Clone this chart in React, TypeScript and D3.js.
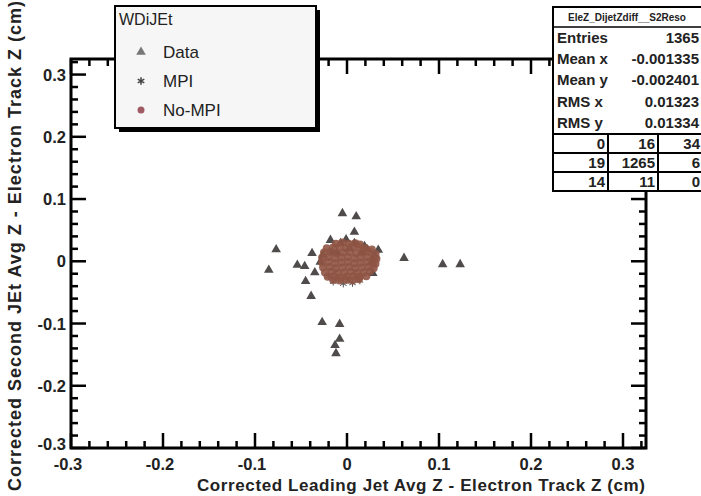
import * as d3 from "d3"

// outlying "Data" triangles plus the ones poking out of the core
const dataX = [-0.005, 0.01, 0.008, -0.018, -0.077, -0.085, -0.038, -0.054, -0.046, -0.035, -0.045, -0.039, -0.027, -0.008, -0.008, -0.013, -0.012, 0.062, 0.104, 0.123, 0.034, 0.028, -0.007, 0.008, 0.019, -0.026, -0.016, -0.029, 0.027, 0.003, 0.016, -0.011, 0.022, -0.001, 0.03]
const dataY = [0.077, 0.072, 0.047, 0.034, 0.019, -0.014, 0.013, -0.006, -0.008, -0.018, -0.032, -0.056, -0.098, -0.101, -0.125, -0.135, -0.148, 0.005, -0.005, -0.005, 0.018, -0.019, 0.029, 0.029, 0.024, 0.01, 0.015, -0.001, -0.001, 0.021, 0.015, 0.014, 0.019, 0.035, 0.009]

// MPI stars (mostly under the core)
const mpiX = [-0.015, -0.004, 0.006, 0.014, -0.009, 0.002, 0.011, -0.02]
const mpiY = [-0.033, -0.036, -0.035, -0.031, -0.028, -0.03, -0.027, -0.024]

// No-MPI circles forming the dense core
const noMpiX = [
  -0.012, -0.005, 0.002, 0.009, 0.014,
  -0.022, -0.015, -0.008, -0.001, 0.006, 0.013, 0.02, 0.027,
  -0.025, -0.018, -0.011, -0.004, 0.003, 0.01, 0.017, 0.024, 0.031,
  -0.027, -0.02, -0.013, -0.006, 0.001, 0.008, 0.015, 0.022, 0.029, 0.032,
  -0.027, -0.02, -0.013, -0.006, 0.001, 0.008, 0.015, 0.022, 0.028, 0.031,
  -0.026, -0.019, -0.012, -0.005, 0.002, 0.009, 0.016, 0.023, 0.029,
  -0.024, -0.017, -0.01, -0.003, 0.004, 0.011, 0.018, 0.025,
  -0.021, -0.014, -0.007, 0.0, 0.007, 0.014, 0.021,
  -0.015, -0.008, -0.001, 0.006, 0.013,
]
const noMpiY = [
  0.028, 0.03, 0.028, 0.029, 0.027,
  0.021, 0.022, 0.023, 0.021, 0.022, 0.023, 0.021, 0.019,
  0.014, 0.015, 0.013, 0.014, 0.015, 0.013, 0.014, 0.015, 0.012,
  0.006, 0.007, 0.005, 0.006, 0.007, 0.005, 0.006, 0.007, 0.005, 0.004,
  -0.002, -0.001, -0.003, -0.002, -0.001, -0.003, -0.002, -0.001, -0.003, -0.004,
  -0.01, -0.009, -0.011, -0.01, -0.009, -0.011, -0.01, -0.009, -0.011,
  -0.018, -0.017, -0.019, -0.018, -0.017, -0.019, -0.018, -0.016,
  -0.025, -0.024, -0.026, -0.025, -0.024, -0.025, -0.024,
  -0.03, -0.031, -0.03, -0.031, -0.029,
]

const xTickLabels = ["-0.3", "-0.2", "-0.1", "0", "0.1", "0.2", "0.3"]
const yTickLabels = ["-0.3", "-0.2", "-0.1", "0", "0.1", "0.2", "0.3"]
const legendLabels = ["Data", "MPI", "No-MPI"]
const statNames = ["Entries", "Mean x", "Mean y", "RMS x", "RMS y"]
const statValues = ["1365", "-0.001335", "-0.002401", "0.01323", "0.01334"]
const overflowTable = [
  ["0", "16", "34"],
  ["19", "1265", "6"],
  ["14", "11", "0"],
]

const W = 701
const H = 496
const L = 71
const R = 646
const T = 59
const B = 448

const font = "'Liberation Sans', Arial, Helvetica, sans-serif"
const triColor = "#4f4b4b"
const circColor = "#8f5444"

export default function App() {
  const x = d3.scaleLinear().domain([-0.3, 0.325]).range([L, R])
  const y = d3.scaleLinear().domain([-0.3, 0.325]).range([B, T])
  const majors = xTickLabels.map(Number)
  const minors = d3.range(-0.3, 0.3251, 0.02)

  const tri = d3.symbol(d3.symbolTriangle, 40)()
  const star = d3.symbol(d3.symbolAsterisk, 40)()

  const tickW = 2.5
  return (
    <svg
      width={W}
      height={H}
      style={{ position: "absolute", left: 0, top: 0, background: "#fff", fontFamily: font }}
    >
      <rect width={W} height={H} fill="#fff" />

      {/* markers */}
      {dataX.map((d, i) => (
        <path key={"d" + i} d={tri!} transform={`translate(${x(d)},${y(dataY[i])})`} fill={triColor} />
      ))}
      {mpiX.map((d, i) => (
        <path key={"m" + i} d={star!} transform={`translate(${x(d)},${y(mpiY[i])})`} fill="#555" stroke="#555" />
      ))}
      {noMpiX.map((d, i) => (
        <circle key={"n" + i} cx={x(d)} cy={y(noMpiY[i])} r={4} fill={circColor} opacity={0.9} />
      ))}

      {/* frame */}
      <rect x={L} y={T} width={R - L} height={B - T} fill="none" stroke="#000" strokeWidth={3} />

      {/* ticks */}
      <g stroke="#000" strokeWidth={tickW}>
        {minors.map((v, i) => {
          const isMajor = majors.some((m) => Math.abs(m - v) < 1e-6)
          const len = isMajor ? 15 : 7
          return (
            <g key={"t" + i}>
              <line x1={x(v)} x2={x(v)} y1={B} y2={B - len} />
              <line x1={x(v)} x2={x(v)} y1={T} y2={T + len} />
              <line x1={L} x2={L + len} y1={y(v)} y2={y(v)} />
              <line x1={R} x2={R - len} y1={y(v)} y2={y(v)} />
            </g>
          )
        })}
      </g>

      {/* tick labels */}
      <g fontSize={16.5} fontWeight="bold" fill="#222">
        {xTickLabels.map((t) => (
          <text key={"xl" + t} x={x(+t) - (t.startsWith("-") ? 3 : 0)} y={470} textAnchor="middle">
            {t}
          </text>
        ))}
        {yTickLabels.map((t) => (
          <text key={"yl" + t} x={66} y={y(+t) + (t === "-0.3" ? 2 : 6)} textAnchor="end">
            {t}
          </text>
        ))}
      </g>

      {/* axis titles */}
      <text x={645} y={491} textAnchor="end" fontSize={17} fontWeight="bold" fill="#222" textLength={448}>
        Corrected Leading Jet Avg Z - Electron Track Z (cm)
      </text>
      <text
        transform="translate(21,1) rotate(-90)"
        textAnchor="end"
        fontSize={18}
        fontWeight="bold"
        fill="#222"
        textLength={490}
      >
        Corrected Second JEt Avg Z - Electron Track Z (cm)
      </text>

      {/* legend */}
      <rect x={119} y={10} width={201} height={122} fill="#000" />
      <rect x={115} y={6} width={201} height={122} fill="#f6f6f6" stroke="#000" strokeWidth={2} />
      <text x={119} y={25} fontSize={16} fill="#222">WDiJEt</text>
      {legendLabels.map((lab, i) => {
        const cy = 52 + i * 29
        return (
          <g key={lab}>
            {i === 0 && <path d={tri!} transform={`translate(141,${cy})`} fill="#777" />}
            {i === 1 && <path d={star!} transform={`translate(141,${cy})`} stroke="#444" strokeWidth={1.5} />}
            {i === 2 && <circle cx={141} cy={cy} r={3.5} fill="#a05a64" />}
            <text x={163} y={cy + 6} fontSize={17} fill="#222">
              {lab}
            </text>
          </g>
        )
      })}

      {/* stats box */}
      <rect x={553} y={7} width={160} height={184} fill="#fff" stroke="#000" strokeWidth={2} />
      <line x1={553} x2={701} y1={27} y2={27} stroke="#000" strokeWidth={1.5} />
      <text x={627} y={21} textAnchor="middle" fontSize={10} fontWeight="bold" fill="#222">
        EleZ_DijetZdiff__S2Reso
      </text>
      {statNames.map((s, i) => (
        <g key={s} fontSize={15} fontWeight="bold" fill="#222">
          <text x={557} y={43 + i * 21.2}>{s}</text>
          <text x={699} y={43 + i * 21.2} textAnchor="end">
            {statValues[i]}
          </text>
        </g>
      ))}
      <g stroke="#000" strokeWidth={2}>
        {[134, 153, 172, 191].map((yy) => (
          <line key={"h" + yy} x1={553} x2={701} y1={yy} y2={yy} />
        ))}
        <line x1={608} x2={608} y1={134} y2={191} />
        <line x1={658} x2={658} y1={134} y2={191} />
      </g>
      {overflowTable.map((row, r) =>
        row.map((v, c) => (
          <text
            key={`o${r}${c}`}
            x={[605, 655, 700][c]}
            y={149 + r * 19}
            textAnchor="end"
            fontSize={15}
            fontWeight="bold"
            fill="#222"
          >
            {v}
          </text>
        ))
      )}
    </svg>
  )
}
